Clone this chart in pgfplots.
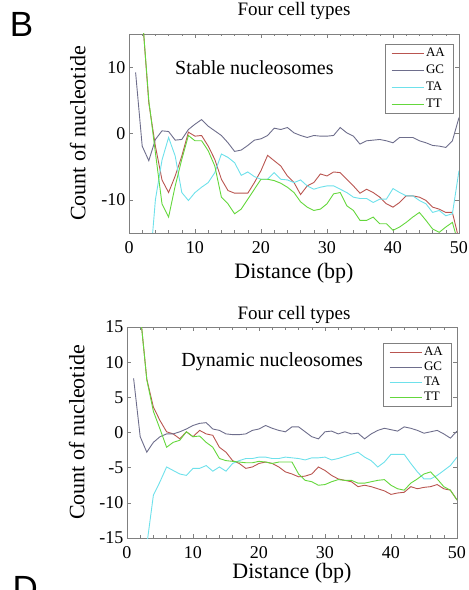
\documentclass[border=0pt]{standalone}
\usepackage{fontspec}
\setmainfont{Liberation Serif}
\newfontfamily\arial{Liberation Sans}
\usepackage{pgfplots}
\pgfplotsset{compat=1.18}

\definecolor{cAA}{RGB}{185,85,80}
\definecolor{cGC}{RGB}{110,110,140}
\definecolor{cTA}{RGB}{110,225,235}
\definecolor{cTT}{RGB}{100,215,60}

\pgfplotsset{
  nucl/.style={
    scale only axis,
    width=330pt,
    xmin=0, xmax=50,
    xtick={0,10,...,50},
    xticklabels={\mbox{0},\mbox{10},\mbox{20},\mbox{30},\mbox{40},\mbox{50}},
    minor x tick num=4,
    axis line style={gray},
    tick style={gray, thin},
    major tick length=4pt,
    minor tick length=2.5pt,
    tick label style={font=\fontsize{18}{20}\selectfont},
    xticklabel style={yshift=-5pt},
    label style={font=\fontsize{22}{24}\selectfont},
    every axis plot/.append style={line width=0.9pt, no marks},
    legend cell align=left,
    legend style={
      at={(1,1)}, anchor=north east, xshift=-6pt, yshift=-10pt,
      draw=gray, font=\fontsize{13}{14}\selectfont,
      inner xsep=6pt, inner ysep=2pt,
    },
    legend image code/.code={\draw[##1] (0pt,0pt) -- (32pt,0pt);},
  }
}

\begin{document}
\begin{tikzpicture}
\begin{scope}
\clip (0pt,0pt) rectangle (469pt,590pt);
\path[use as bounding box] (0pt,0pt) rectangle (469pt,590pt);

\node[font=\arial\fontsize{35}{36}\selectfont] at (21.5pt,565.5pt) {B};
\node[font=\arial\fontsize{35}{36}\selectfont, anchor=base west] at (9pt,-10pt) {D};

% top panel
\begin{axis}[nucl,
    at={(129pt,357pt)}, anchor=south west,
    height=199pt,
    ymin=-15, ymax=15,
    ytick={-10,0,10}, yticklabels={\mbox{-10},\mbox{0},\mbox{10}},
    xlabel={Distance (bp)}, ylabel={Count of nucleotide},
    xlabel style={at={(rel axis cs:0.5,-0.2)}, anchor=center},
    ylabel style={at={(rel axis cs:-0.155,0.5)}, anchor=center},
    legend style={yshift=0pt, row sep=3pt},
  ]
\addplot[cAA] coordinates {
 (1,40) (2,18) (3,4.6) (4,-1.9) (5,-7) (6,-8.9) (7,-6.4) (8,-3.4) (9,0.2) (10,-0.4)
 (11,-0.3) (12,-1.9) (13,-3.9) (14,-6.9) (15,-8.6) (16,-9) (17,-9) (18,-9) (19,-7.4) (20,-5.6)
 (21,-3.3) (22,-4.1) (23,-4.9) (24,-6.4) (25,-7.4) (26,-9.2) (27,-7.9) (28,-7.4) (29,-6.1) (30,-6.4)
 (31,-5.8) (32,-5.9) (33,-6.9) (34,-7.9) (35,-9) (36,-8.4) (37,-8.9) (38,-9.6) (39,-10.6) (40,-11.1)
 (41,-10.4) (42,-9.4) (43,-9.4) (44,-9.6) (45,-10.1) (46,-11.1) (47,-11.4) (48,-11.9) (49,-11.9) (50,-16)};
\addplot[cGC] coordinates {
 (1,9.2) (2,-1.9) (3,-4.1) (4,-0.9) (5,0.4) (6,0.3) (7,-1) (8,-0.9) (9,0.6) (10,1.4)
 (11,2.1) (12,1.1) (13,0.4) (14,-0.3) (15,-1.4) (16,-2.7) (17,-2.5) (18,-1.8) (19,-1) (20,-0.8)
 (21,-0.3) (22,0.8) (23,0.6) (24,0.9) (25,0.1) (26,-0.3) (27,-0.6) (28,-0.3) (29,-0.4) (30,-0.4)
 (31,-0.3) (32,0.9) (33,0.1) (34,-0.4) (35,-1.6) (36,-1.1) (37,-1) (38,-0.9) (39,-1.1) (40,-1.4)
 (41,-0.6) (42,-0.6) (43,-0.6) (44,-1.1) (45,-1.4) (46,-1.8) (47,-1.9) (48,-2.1) (49,-1.1) (50,2.4)};
\addplot[cTA] coordinates {
 (3,-22) (4,-10) (5,-4) (6,-0.6) (7,-3.4) (8,-8.9) (9,-10.1) (10,-8.9)
 (11,-8.1) (12,-7.4) (13,-5.9) (14,-3.1) (15,-3.6) (16,-4.4) (17,-6.3) (18,-5.8) (19,-6.5) (20,-6.9)
 (21,-6.9) (22,-5.9) (23,-6.9) (24,-7) (25,-7.4) (26,-7) (27,-7.9) (28,-8.4) (29,-8.1) (30,-7.9)
 (31,-7.9) (32,-8.4) (33,-8.9) (34,-9.6) (35,-9.8) (36,-9.8) (37,-10.4) (38,-9.9) (39,-9.9) (40,-8.3)
 (41,-8.9) (42,-9.4) (43,-9.4) (44,-10.1) (45,-10.6) (46,-11.9) (47,-11.6) (48,-12.4) (49,-12.1) (50,-5.6)};
\addplot[cTT] coordinates {
 (1,40) (2,18) (3,5) (4,-2.9) (5,-10.6) (6,-12.6) (7,-7.9) (8,-3.9) (9,-0.3) (10,-1.1)
 (11,-1.1) (12,-2.6) (13,-4.9) (14,-9.6) (15,-10.6) (16,-12.1) (17,-11.4) (18,-9.9) (19,-8.4) (20,-6.9)
 (21,-6.9) (22,-7.1) (23,-7.5) (24,-8.1) (25,-8.9) (26,-10.3) (27,-11.1) (28,-11.6) (29,-11.4) (30,-10.6)
 (31,-9.1) (32,-8.9) (33,-10.9) (34,-11.6) (35,-13.1) (36,-13.1) (37,-12.6) (38,-13.6) (39,-13.6) (40,-14.6)
 (41,-14.1) (42,-13.4) (43,-12.6) (44,-11.9) (45,-13.1) (46,-14.4) (47,-14.9) (48,-14.1) (49,-13.4) (50,-16.9)};
\legend{AA,GC,TA,TT}
\node[font=\fontsize{20}{22}\selectfont] at (axis cs:19,10) {Stable nucleosomes};
\end{axis}
\node[font=\fontsize{19}{20}\selectfont] at (294pt,579pt) {Four cell types};

% bottom panel
\begin{axis}[nucl,
    at={(127pt,52pt)}, anchor=south west,
    height=211pt,
    ymin=-15, ymax=15,
    ytick={-15,-10,...,15},
    yticklabels={\mbox{-15},\mbox{-10},\mbox{-5},\mbox{0},\mbox{5},\mbox{10},\mbox{15}},
    xlabel={Distance (bp)}, ylabel={Count of nucleotide},
    xlabel style={at={(rel axis cs:0.5,-0.165)}, anchor=center},
    ylabel style={at={(rel axis cs:-0.152,0.5)}, anchor=center},
    legend style={yshift=-6pt, row sep=1pt},
  ]
\addplot[cAA] coordinates {
 (1,40) (2,17) (3,7.6) (4,3.6) (5,1.7) (6,0.1) (7,-0.2) (8,-0.9) (9,0.1) (10,-0.6)
 (11,0.3) (12,-0.2) (13,-0.4) (14,-2.1) (15,-2.8) (16,-4) (17,-4.4) (18,-5.1) (19,-4.9) (20,-4.4)
 (21,-4.2) (22,-4.4) (23,-4.9) (24,-5.6) (25,-5.9) (26,-6.3) (27,-6.2) (28,-5.9) (29,-4.9) (30,-5.4)
 (31,-6.1) (32,-6.6) (33,-6.8) (34,-7) (35,-7.7) (36,-7.5) (37,-7.7) (38,-8) (39,-8.3) (40,-8.8)
 (41,-8.6) (42,-8.5) (43,-7.7) (44,-8) (45,-7.8) (46,-7.7) (47,-7.4) (48,-8) (49,-8.2) (50,-9.6)};
\addplot[cGC] coordinates {
 (1,7.7) (2,-0.6) (3,-2.8) (4,-1.4) (5,-0.6) (6,-0.2) (7,-0.2) (8,0.1) (9,0.5) (10,1)
 (11,1.3) (12,1.4) (13,0.5) (14,0.3) (15,-0.2) (16,-0.3) (17,-0.3) (18,-0.2) (19,0.3) (20,0.5)
 (21,1) (22,0.6) (23,0.3) (24,0.1) (25,0.8) (26,0.8) (27,0.1) (28,-0.6) (29,-0.9) (30,0.1)
 (31,0.2) (32,-0.2) (33,0.1) (34,-0.2) (35,-0.1) (36,-0.9) (37,-0.2) (38,0.3) (39,0.6) (40,0.4)
 (41,0.2) (42,0.8) (43,0.6) (44,0.3) (45,-0.1) (46,0.1) (47,0.3) (48,-0.2) (49,-0.8) (50,0.2)};
\addplot[cTA] coordinates {
 (3,-16) (4,-8.9) (5,-7) (6,-4.9) (7,-5.4) (8,-5.9) (9,-6.1) (10,-5.1)
 (11,-5.1) (12,-4.7) (13,-5.5) (14,-4.9) (15,-5.5) (16,-4.4) (17,-4) (18,-3.7) (19,-3.7) (20,-3.5)
 (21,-3.5) (22,-3.7) (23,-3.7) (24,-3.5) (25,-3.6) (26,-3.7) (27,-3.9) (28,-3.6) (29,-3.6) (30,-3.5)
 (31,-3.9) (32,-3.7) (33,-3.4) (34,-3.1) (35,-2.8) (36,-3.5) (37,-4) (38,-4.9) (39,-4.2) (40,-3.1)
 (41,-3.1) (42,-3.1) (43,-4.4) (44,-5.6) (45,-6.6) (46,-6.6) (47,-6.1) (48,-5.4) (49,-4.7) (50,-3.5)};
\addplot[cTT] coordinates {
 (1,40) (2,17) (3,7.5) (4,3) (5,0.5) (6,-2.1) (7,-1.4) (8,-1.1) (9,0.1) (10,-0.6)
 (11,-0.5) (12,-1.4) (13,-2.1) (14,-3.7) (15,-4) (16,-4.1) (17,-4.2) (18,-4.3) (19,-4.3) (20,-4.1)
 (21,-4.2) (22,-4.4) (23,-4.2) (24,-4.2) (25,-4.2) (26,-5.9) (27,-6.8) (28,-7) (29,-7.5) (30,-7.4)
 (31,-7) (32,-6.7) (33,-6.8) (34,-6.8) (35,-7.2) (36,-7.2) (37,-7) (38,-6.8) (39,-6.7) (40,-7.5)
 (41,-8) (42,-8.2) (43,-7.2) (44,-6.6) (45,-5.9) (46,-5.6) (47,-6.6) (48,-7.7) (49,-8.2) (50,-9.6)};
\legend{AA,GC,TA,TT}
\node[font=\fontsize{20}{22}\selectfont] at (axis cs:22,10) {Dynamic nucleosomes};
\end{axis}
\node[font=\fontsize{19}{20}\selectfont] at (294pt,275pt) {Four cell types};
\end{scope}
\end{tikzpicture}
\end{document}
